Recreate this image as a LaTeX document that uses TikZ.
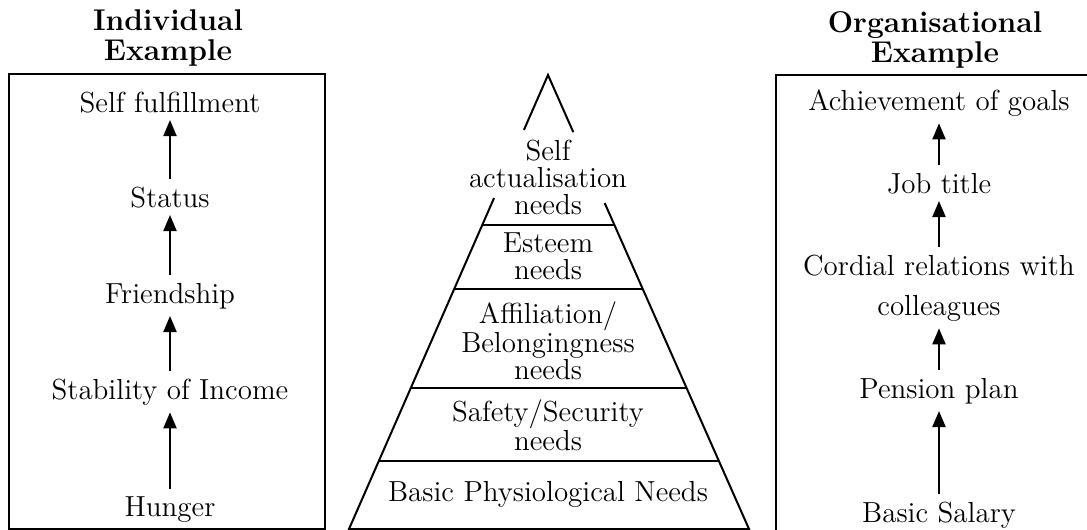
\documentclass[tikz,border=0pt]{standalone}
\usetikzlibrary{arrows.meta,calc}
\tikzset{
  lbl/.style={font=\fontsize{14.5}{15}\selectfont, inner sep=3.5pt, anchor=base},
  ttl/.style={font=\fontsize{15}{15}\selectfont\bfseries, align=center},
  lvl/.style={font=\fontsize{14.5}{13.5}\selectfont, align=center, inner sep=0pt},
  up/.style={-{Triangle[length=8pt,width=6.5pt]}, line width=1pt},
}
\begin{document}
\begin{tikzpicture}[x=0.5pt,y=-0.5pt]
    \useasboundingbox (0,0) rectangle (1087,530);
    % left box: individual example
    \draw[line width=1.2pt] (9,74) rectangle (325,529);
    \node[ttl] (indtitle) at (168,38) {Individual\\Example};
    \node[lbl] (fulfil) at (170,112) {Self fulfillment};
    \node[lbl] (status) at (170,207) {Status};
    \node[lbl] (friend) at (170,303) {Friendship};
    \node[lbl] (income) at (170,399) {Stability of Income};
    \node[lbl] (hunger) at (170,516) {Hunger};
    \draw[up] (hunger) -- (income);
    \draw[up] (income) -- (friend);
    \draw[up] (friend) -- (status);
    \draw[up] (status) -- (fulfil);
    % pyramid
    \coordinate (apex) at (548,75);
    \coordinate (bl) at (349,529);
    \coordinate (br) at (749,529);
    \draw[line width=1pt] ($(apex)!0.121!(bl)$) -- (apex) -- ($(apex)!0.126!(br)$);
    \draw[line width=1pt] ($(apex)!0.271!(bl)$) -- (bl) -- (br) -- ($(apex)!0.282!(br)$);
    \foreach \f in {0.3304,0.4714,0.6894,0.8502}
        \draw[line width=1pt] ($(apex)!\f!(bl)$) -- ($(apex)!\f!(br)$);
    \node[lvl] (selfact) at (548,177) {Self\\actualisation\\needs};
    \node[lvl] (esteem) at (548,256) {Esteem\\needs};
    \node[lvl] (affil) at (548,341) {Affiliation/\\Belongingness\\needs};
    \node[lvl] (safety) at (548,425) {Safety/Security\\needs};
    \node[lvl, anchor=base] (basic) at (548,501) {Basic Physiological Needs};
    % right box: organisational example
    \draw[line width=1.2pt] (776,75) rectangle (1100,545);
    \node[ttl] (orgtitle) at (935,40) {Organisational\\Example};
    \node[lbl] (goals) at (939,110) {Achievement of goals};
    \node[lbl] (job) at (939,193) {Job title};
    \node[lbl] (cordial) at (939,275) {Cordial relations with};
    \node[lbl] (colleague) at (939,315) {colleagues};
    \node[lbl] (pension) at (939,398) {Pension plan};
    \node[lbl] (salary) at (939,522) {Basic Salary};
    \draw[up] (salary) -- (pension);
    \draw[up] (pension) -- (colleague);
    \draw[up] (cordial) -- (job);
    \draw[up] (job) -- (goals);
\end{tikzpicture}
\end{document}
